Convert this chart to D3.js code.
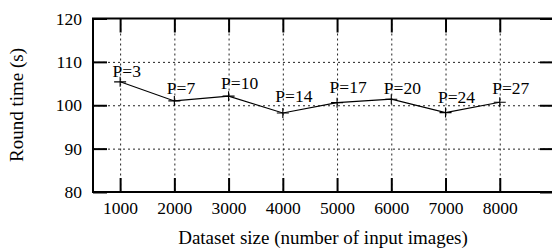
<!DOCTYPE html>
<html>
<head>
<meta charset="utf-8">
<script src="https://cdn.jsdelivr.net/npm/d3@7"></script>
<style>
  body { margin: 0; background: #fff; }
  svg text { font-family: "Liberation Serif", "Times New Roman", serif; font-size: 17.5px; fill: #000; }
  svg text.title { font-size: 19px; }
</style>
</head>
<body>
<div id="content"></div>
<script>
// data
var sizes = [1000, 2000, 3000, 4000, 5000, 6000, 7000, 8000];
var roundTime = [105.4, 101.0, 102.1, 98.2, 100.6, 101.4, 98.3, 100.7];
var labels = ['P=3', 'P=7', 'P=10', 'P=14', 'P=17', 'P=20', 'P=24', 'P=27'];
var labelAt = [106.6, 102.5, 103.7, 100.8, 102.8, 102.6, 100.6, 102.6];
var yTicks = [80, 90, 100, 110, 120];

var W = 552, H = 248;
var margin = {left: 93, top: 18.5, right: -2, bottom: 56};
var w = W - margin.left - margin.right,
    h = H - margin.top - margin.bottom;

var svg = d3.select('#content').append('svg')
    .attr('width', W)
    .attr('height', H);

var g = svg.append('g').attr('transform', 'translate(' + margin.left + ',' + margin.top + ')');

var x = d3.scaleLinear().domain([500, 9000]).range([0, w]);
var y = d3.scaleLinear().domain([80, 120]).range([h, 0]);

// dotted grid
g.append('g').attr('class', 'grid')
    .call(d3.axisBottom(x).tickValues(sizes).tickSize(h).tickFormat(''));
g.append('g').attr('class', 'grid')
    .call(d3.axisLeft(y).tickValues([90, 100, 110]).tickSize(-w).tickFormat(''));
g.selectAll('.grid .domain').remove();
g.selectAll('.grid line')
    .attr('stroke', '#222')
    .attr('stroke-width', 1)
    .attr('stroke-dasharray', '2,3');

// axes, ticks pointing inward
var xAxis = g.append('g').attr('transform', 'translate(0,' + h + ')')
    .call(d3.axisBottom(x).tickValues(sizes).tickSize(-14).tickPadding(10).tickFormat(d3.format('d')));
var xTop = g.append('g')
    .call(d3.axisTop(x).tickValues(sizes).tickSize(-14).tickFormat(''));
var yAxis = g.append('g')
    .call(d3.axisLeft(y).tickValues(yTicks).tickSize(-14).tickPadding(11));
var yRight = g.append('g').attr('transform', 'translate(' + w + ',0)')
    .call(d3.axisRight(y).tickValues(yTicks).tickSize(-14).tickFormat(''));

[xAxis, xTop, yAxis, yRight].forEach(function(a) {
    a.attr('font-size', null).attr('font-family', null);
    a.select('.domain').remove();
    a.selectAll('.tick line').attr('stroke', '#000').attr('stroke-width', 2);
});
xAxis.selectAll('text').attr('dy', '0.71em');

// border box
g.append('rect')
    .attr('x', 0).attr('y', 0)
    .attr('width', w).attr('height', h)
    .attr('fill', 'none')
    .attr('stroke', '#000')
    .attr('stroke-width', 2);

// series
var pts = sizes.map(function(s, i) { return [s, roundTime[i]]; });
g.append('path')
    .datum(pts)
    .attr('fill', 'none')
    .attr('stroke', '#000')
    .attr('stroke-width', 1.1)
    .attr('d', d3.line().x(function(d) { return x(d[0]); }).y(function(d) { return y(d[1]); }));

g.selectAll('.pt').data(pts).enter().append('path')
    .attr('class', 'pt')
    .attr('transform', function(d) { return 'translate(' + x(d[0]) + ',' + y(d[1]) + ')'; })
    .attr('d', 'M-6,0H6M0,-5V5')
    .attr('stroke', '#000')
    .attr('stroke-width', 1.1);

g.selectAll('.lbl').data(labels).enter().append('text')
    .attr('class', 'lbl')
    .attr('x', function(d, i) { return x(sizes[i]) - 7.5; })
    .attr('y', function(d, i) { return y(labelAt[i]); })
    .text(function(d) { return d; });

// axis titles
svg.append('text')
    .attr('class', 'title')
    .attr('x', 323).attr('y', 244)
    .attr('text-anchor', 'middle')
    .text('Dataset size (number of input images)');

svg.append('text')
    .attr('class', 'title')
    .attr('transform', 'translate(23,105) rotate(-90)')
    .attr('text-anchor', 'middle')
    .text('Round time (s)');
</script>
</body>
</html>
